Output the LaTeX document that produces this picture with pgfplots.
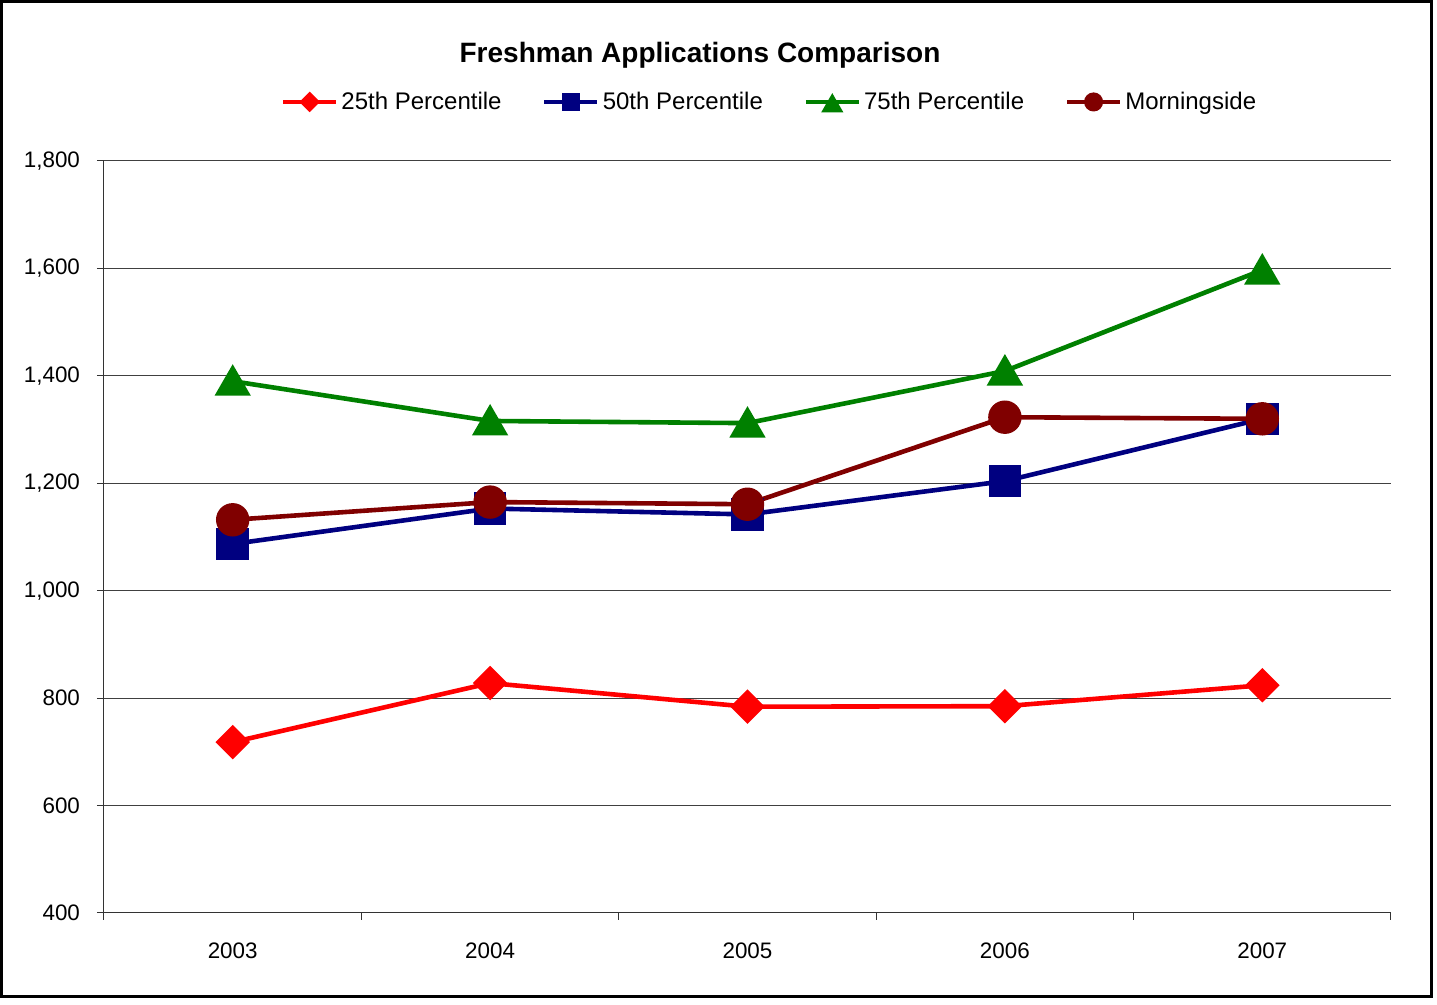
\documentclass[border=0pt]{standalone}
\usepackage{fontspec}
\setmainfont{Liberation Sans}
\usepackage{pgfplots}
\pgfplotsset{compat=1.18}
\definecolor{cRed}{HTML}{FF0000}
\definecolor{cNavy}{HTML}{000080}
\definecolor{cGreen}{HTML}{008000}
\definecolor{cMaroon}{HTML}{800000}
\begin{document}
\begin{tikzpicture}[x=1pt,y=1pt]
\useasboundingbox (-52,-46) rectangle (666.5,456.5);
\draw[line width=1.5pt] (-51.25,-41.75) rectangle (663.75,455.75);
\node[font=\bfseries\fontsize{14}{17}\selectfont] at (298,429) {Freshman Applications Comparison};
\begin{axis}[
  at={(0,0)}, anchor=south west,
  scale only axis, width=643.5pt, height=376pt,
  xmin=-0.5, xmax=4.5, ymin=400, ymax=1800,
  axis x line*=bottom, axis y line*=left,
  ytick={400,600,...,1800},
  ymajorgrids,
  grid style={color=black!75, line width=0.5pt},
  xtick={0,1,2,3,4}, xticklabels={2003,2004,2005,2006,2007},
  major x tick style={draw=none},
  minor xtick={-0.5,0.5,1.5,2.5,3.5,4.5},
  tick align=outside, major tick length=3.5pt, minor tick length=3.5pt,
  tick style={black!80, line width=0.5pt},
  minor x tick style={black!80, line width=0.5pt},
  axis line style={black!80, line width=0.5pt},
  /pgf/number format/.cd, 1000 sep={,}, assume math mode=true,
  /pgfplots/.cd,
  ticklabel style={font=\fontsize{11.2}{13}\selectfont},
  xticklabel style={yshift=-8pt},
  yticklabel style={xshift=-5pt},
  legend columns=4,
  legend style={at={(0.5175,1.0785)}, anchor=center, draw=none, fill=none,
    font=\fontsize{12}{14}\selectfont,
    /tikz/every even column/.append style={column sep=18.8pt},
    nodes={inner sep=1.5pt}},
  legend image code/.code={
    \draw[mark repeat=2,mark phase=2,every mark/.append style={scale=0.5}]
      plot coordinates {(0pt,0pt) (13.25pt,0pt) (26.5pt,0pt)};},
  every axis plot/.append style={line width=2.3pt},
]
\addplot[color=cRed, mark=square*, mark size=4.95pt, mark options={rotate=45, solid}]
  coordinates {(0,718) (1,828) (2,784) (3,785) (4,824)};
\addlegendentry{25th Percentile}
\addplot[color=cNavy, mark=square*, mark size=7pt, mark options={solid}]
  coordinates {(0,1087) (1,1153) (2,1142) (3,1204) (4,1320)};
\addlegendentry{50th Percentile}
\addplot[color=cGreen, mark=triangle*, mark size=8.2pt, mark options={solid, yshift=-2pt}]
  coordinates {(0,1390) (1,1316) (2,1312) (3,1409) (4,1597)};
\addlegendentry{75th Percentile}
\addplot[color=cMaroon, mark=*, mark size=7.2pt, mark options={solid}]
  coordinates {(0,1132) (1,1165) (2,1161) (3,1323) (4,1320)};
\addlegendentry{Morningside}
\end{axis}
\end{tikzpicture}
\end{document}
